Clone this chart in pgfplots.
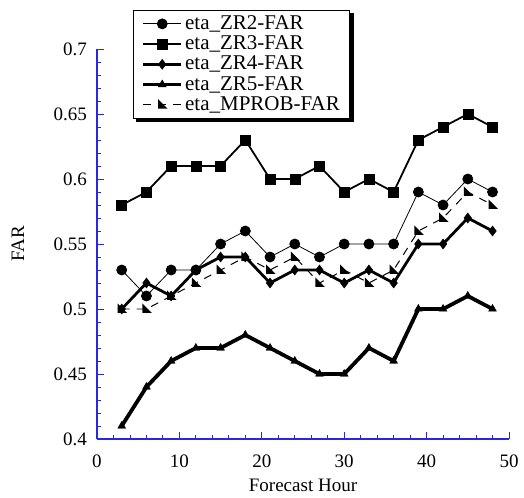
\documentclass[border=0pt]{standalone}
\usepackage{fontspec}
\setmainfont{Liberation Serif}
\usepackage{pgfplots}
\pgfplotsset{compat=1.18}

\definecolor{axblue}{RGB}{40,40,220}

\pgfdeclareplotmark{mprob}{%
  \pgfpathmoveto{\pgfpoint{-0.8\pgfplotmarksize}{1.1\pgfplotmarksize}}%
  \pgfpathlineto{\pgfpoint{1.1\pgfplotmarksize}{-0.8\pgfplotmarksize}}%
  \pgfpathlineto{\pgfpoint{-0.8\pgfplotmarksize}{-0.8\pgfplotmarksize}}%
  \pgfpathclose\pgfusepathqfill}

\begin{document}
\fontsize{19bp}{22bp}\selectfont
\begin{tikzpicture}
\begin{axis}[
    scale only axis,
    width=412bp,
    height=390bp,
    xmin=0, xmax=50,
    ymin=0.4, ymax=0.7,
    xtick={0,10,20,30,40,50},
    ytick={0.4,0.45,0.5,0.55,0.6,0.65,0.7},
    minor x tick num=4,
    minor y tick num=4,
    axis x line*=bottom,
    axis y line*=left,
    axis line style={axblue, line width=1.2pt, -},
    every tick/.style={axblue, line width=0.9pt},
    tick align=inside,
    major tick length=7bp,
    minor tick length=4bp,
    xlabel={Forecast Hour},
    ylabel={FAR},
    xlabel style={at={(axis description cs:0.5,-0.118)}, anchor=center},
    ylabel style={at={(axis description cs:-0.192,0.5)}, anchor=center},
    yticklabel style={inner sep=0pt, anchor=east, xshift=-10bp},
    xticklabel style={inner sep=0pt, anchor=north, yshift=-16bp},
    /pgf/number format/assume math mode=true,
    /pgf/number format/fixed,
    yticklabel style={/pgf/number format/precision=2},
    legend style={name=leg, at={(0.087,1.1)}, anchor=north west, draw=black,
        line width=1pt, fill=white,
        font=\fontsize{21bp}{20bp}\selectfont,
        inner xsep=8bp, inner ysep=3bp, row sep=-0.5bp, legend cell align=left},
    legend image code/.code={%
        \draw[mark repeat=2,mark phase=2] plot coordinates {(0bp,0bp) (19bp,0bp) (38bp,0bp)};},
]
\addplot[black, line width=0.8pt, mark=*, mark size=5bp] coordinates {
    (3,0.53) (6,0.51) (9,0.53) (12,0.53) (15,0.55) (18,0.56) (21,0.54) (24,0.55)
    (27,0.54) (30,0.55) (33,0.55) (36,0.55) (39,0.59) (42,0.58) (45,0.60) (48,0.59)
};
\addlegendentry{eta\_ZR2-FAR}
\addplot[black, line width=1.8pt, mark=square*, mark size=5bp,
    mark options={line width=0.5pt}] coordinates {
    (3,0.58) (6,0.59) (9,0.61) (12,0.61) (15,0.61) (18,0.63) (21,0.60) (24,0.60)
    (27,0.61) (30,0.59) (33,0.60) (36,0.59) (39,0.63) (42,0.64) (45,0.65) (48,0.64)
};
\addlegendentry{eta\_ZR3-FAR}
\addplot[black, line width=2.8pt, mark=diamond*, mark size=5bp,
    mark options={line width=0.5pt}] coordinates {
    (3,0.50) (6,0.52) (9,0.51) (12,0.53) (15,0.54) (18,0.54) (21,0.52) (24,0.53)
    (27,0.53) (30,0.52) (33,0.53) (36,0.52) (39,0.55) (42,0.55) (45,0.57) (48,0.56)
};
\addlegendentry{eta\_ZR4-FAR}
\addplot[black, line width=3.8pt, mark=triangle*, mark size=4.5bp,
    mark options={line width=0.5pt}] coordinates {
    (3,0.41) (6,0.44) (9,0.46) (12,0.47) (15,0.47) (18,0.48) (21,0.47) (24,0.46)
    (27,0.45) (30,0.45) (33,0.47) (36,0.46) (39,0.50) (42,0.50) (45,0.51) (48,0.50)
};
\addlegendentry{eta\_ZR5-FAR}
\addplot[black, line width=1pt, dash pattern=on 8bp off 7bp, mark=mprob, mark size=5bp,
    mark options={solid}] coordinates {
    (3,0.50) (6,0.50) (9,0.51) (12,0.52) (15,0.53) (18,0.54) (21,0.53) (24,0.54)
    (27,0.52) (30,0.53) (33,0.52) (36,0.53) (39,0.56) (42,0.57) (45,0.59) (48,0.58)
};
\addlegendentry{eta\_MPROB-FAR}
\end{axis}
% legend shadow: heavy bottom and right edges
\fill[black] ([xshift=3bp,yshift=-3.5bp]leg.south west) rectangle ([xshift=3.5bp]leg.south east);
\fill[black] ([yshift=-3bp]leg.north east) rectangle ([xshift=3.5bp]leg.south east);
\pgfresetboundingbox
\path[use as bounding box] ([xshift=-97bp,yshift=-59bp]current axis.south west) rectangle ++(524bp,498bp);
\end{tikzpicture}
\end{document}
